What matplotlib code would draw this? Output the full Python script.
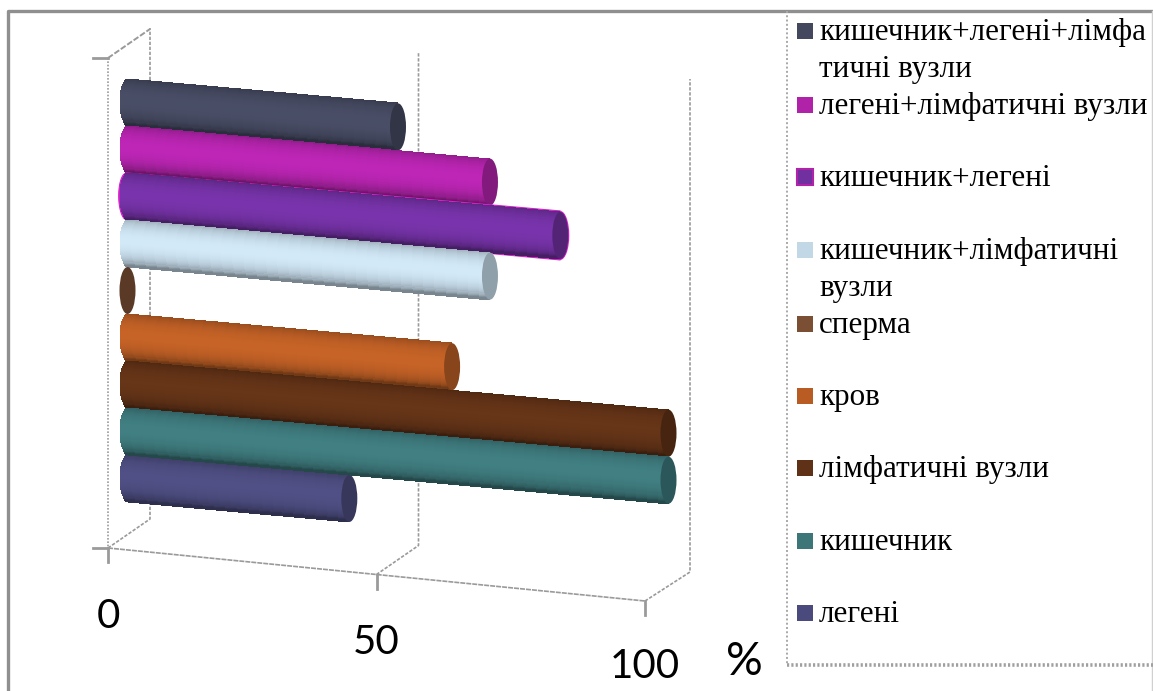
import numpy as np
import matplotlib
matplotlib.use("Agg")
import matplotlib.pyplot as plt
from matplotlib.patches import Ellipse, Rectangle

# значення у %, знизу вгору
categories = ["легені", "кишечник", "лімфатичні вузли", "кров", "сперма",
              "кишечник+лімфатичні\nвузли", "кишечник+легені",
              "легені+лімфатичні вузли", "кишечник+легені+лімфа\nтичні вузли"]
values = [41, 100, 100, 60, 0, 67, 80, 67, 50]
colors = ["#4a4a7c", "#3c7679", "#5f3116", "#b85c24", "#7a4f33",
          "#c3d8e6", "#7030a0", "#b023a9", "#44485f"]
x_ticks = [0, 50, 100]

W, H = 1153, 691
GREY = "#9a9a9a"

# косокутна проекція: (відсоток, номер категорії) -> пікселі
X0, PX_PER_PCT = 127.5, 5.41
Y0, PX_PER_CAT = 478.5, 47.0
SLOPE = 0.09
RADIUS, CAP_W = 23.5, 8.0


def project(pct, cat):
    x = X0 + pct * PX_PER_PCT
    return x, Y0 - cat * PX_PER_CAT + (x - X0) * SLOPE


def wall_x(pct):
    return 108 + pct * 5.37


def wall_y(pct):
    return 548 + pct * 0.53


def shaded(color, n):
    # циліндр: темні краї, світліша смуга трохи вище середини
    base = np.array(matplotlib.colors.to_rgb(color))
    t = (np.arange(n) + 0.5) / n * 2 - 1
    light = 0.62 + 0.46 * np.sqrt(np.clip(1 - (t + 0.1) ** 2, 0, 1))
    return np.clip(base[None, :] * light[:, None], 0, 1)


def draw_bar(ax, cat, val, color, z):
    xc0, yc0 = project(0, cat)
    xc1, yc1 = project(val, cat)
    cap = np.clip(np.array(matplotlib.colors.to_rgb(color)) * 0.74, 0, 1)
    if val == 0:
        ax.add_patch(Ellipse((xc0, yc0), 2 * CAP_W, 2 * RADIUS, fc=cap, ec="none", zorder=z))
        return

    n = 46
    t = np.linspace(-1, 1, n + 1)
    left = xc0 - CAP_W * np.sqrt(1 - t ** 2)
    X = np.column_stack([left, np.full(n + 1, xc1)])
    Y = np.column_stack([yc0 + RADIUS * t + (left - xc0) * SLOPE,
                         yc1 + RADIUS * t])
    rgb = shaded(color, n)[:, None, :]
    if color == "#7030a0":
        # у цього ряду рожевий контур
        ax.fill(np.r_[left - 0.8, xc1, xc1],
                np.r_[Y[:, 0], yc1 + RADIUS + 1, yc1 - RADIUS - 1],
                color="#d51fc8", zorder=z, lw=0.8)
        ax.add_patch(Ellipse((xc1, yc1), 2 * CAP_W + 2, 2 * RADIUS + 2,
                             fc="#d51fc8", ec="none", zorder=z))
    ax.pcolormesh(X, Y, rgb, shading="flat", zorder=z + 0.1, antialiased=False,
                  edgecolors="none", linewidth=0)
    ax.add_patch(Ellipse((xc1, yc1), 2 * CAP_W, 2 * RADIUS, fc=cap, ec="none", zorder=z + 0.2))


fig = plt.figure(figsize=(W / 100, H / 100), dpi=100)
ax = fig.add_axes([0, 0, 1, 1])
ax.set_xlim(0, W)
ax.set_ylim(H, 0)
ax.axis("off")

# рамка
ax.plot([8, 8, W], [H, 11, 11], color="#8f8f8f", lw=2.4, zorder=1)
ax.plot([1151.5, 1151.5], [11, H], color="#d0d0d0", lw=1, zorder=1)
ax.plot([787, 787], [11, 665], color="#a8a8a8", lw=1.4, ls=(0, (1, 1.2)), zorder=1)
ax.plot([787, W], [665, 665], color="#a0a0a0", lw=2.6, ls=(0, (0.6, 0.6)), zorder=1)

# каркас осей
wall_top = {0: 28, 50: 53, 100: 79}
wall_depth = {0: 42, 50: 42, 100: 45}
label_gap = {0: 68, 50: 68, 100: 66}
for tick in x_ticks:
    x, y = wall_x(tick), wall_y(tick)
    d = wall_depth[tick]
    ax.plot([x, x + d, x + d], [y, y - 29, wall_top[tick]], color=GREY, lw=1.2,
            ls=(0, (2, 1)), zorder=2)
    ax.plot([x, x], [y, y + 14], color=GREY, lw=2, zorder=2)
    ax.text(x, y + label_gap[tick], str(tick), family="Lato", fontsize=29,
            ha="center", va="center", color="black")
ax.plot([wall_x(0), wall_x(100)], [wall_y(0), wall_y(100)], color=GREY, lw=1.2,
        ls=(0, (3, 0.6)), zorder=2)
ax.plot([108, 108], [58, 548], color=GREY, lw=1.2, ls=(0, (1, 1)), zorder=2)
ax.plot([108, 150], [58, 29], color=GREY, lw=1.4, ls=(0, (3, 1)), zorder=2)
ax.plot([93, 108], [58, 58], color=GREY, lw=2, zorder=2)
ax.plot([93, 108], [548, 548], color=GREY, lw=2, zorder=2)
ax.text(744, 662, "%", family="Lato", fontsize=33, ha="center", va="center", color="black")

# циліндри: верхні спочатку, нижні лягають поверх
for cat in range(len(values) - 1, -1, -1):
    z = 3 + len(values) - cat
    if cat == 0:
        z = 3
    draw_bar(ax, cat, values[cat], colors[cat], z)

# легенда
legend_y = [613, 541, 468, 396, 324, 250, 177, 105, 31]
for cat, ly in enumerate(legend_y):
    ax.add_patch(Rectangle((797, ly - 8), 16, 16, fc=colors[cat],
                           ec="#b023a9" if colors[cat] == "#7030a0" else "none",
                           lw=1.5, zorder=3))
    ax.text(819, ly - 13, categories[cat], family="Liberation Serif", fontsize=22.4,
            ha="left", va="top", linespacing=1.37, color="black")

fig.savefig("out.png", dpi=100)
